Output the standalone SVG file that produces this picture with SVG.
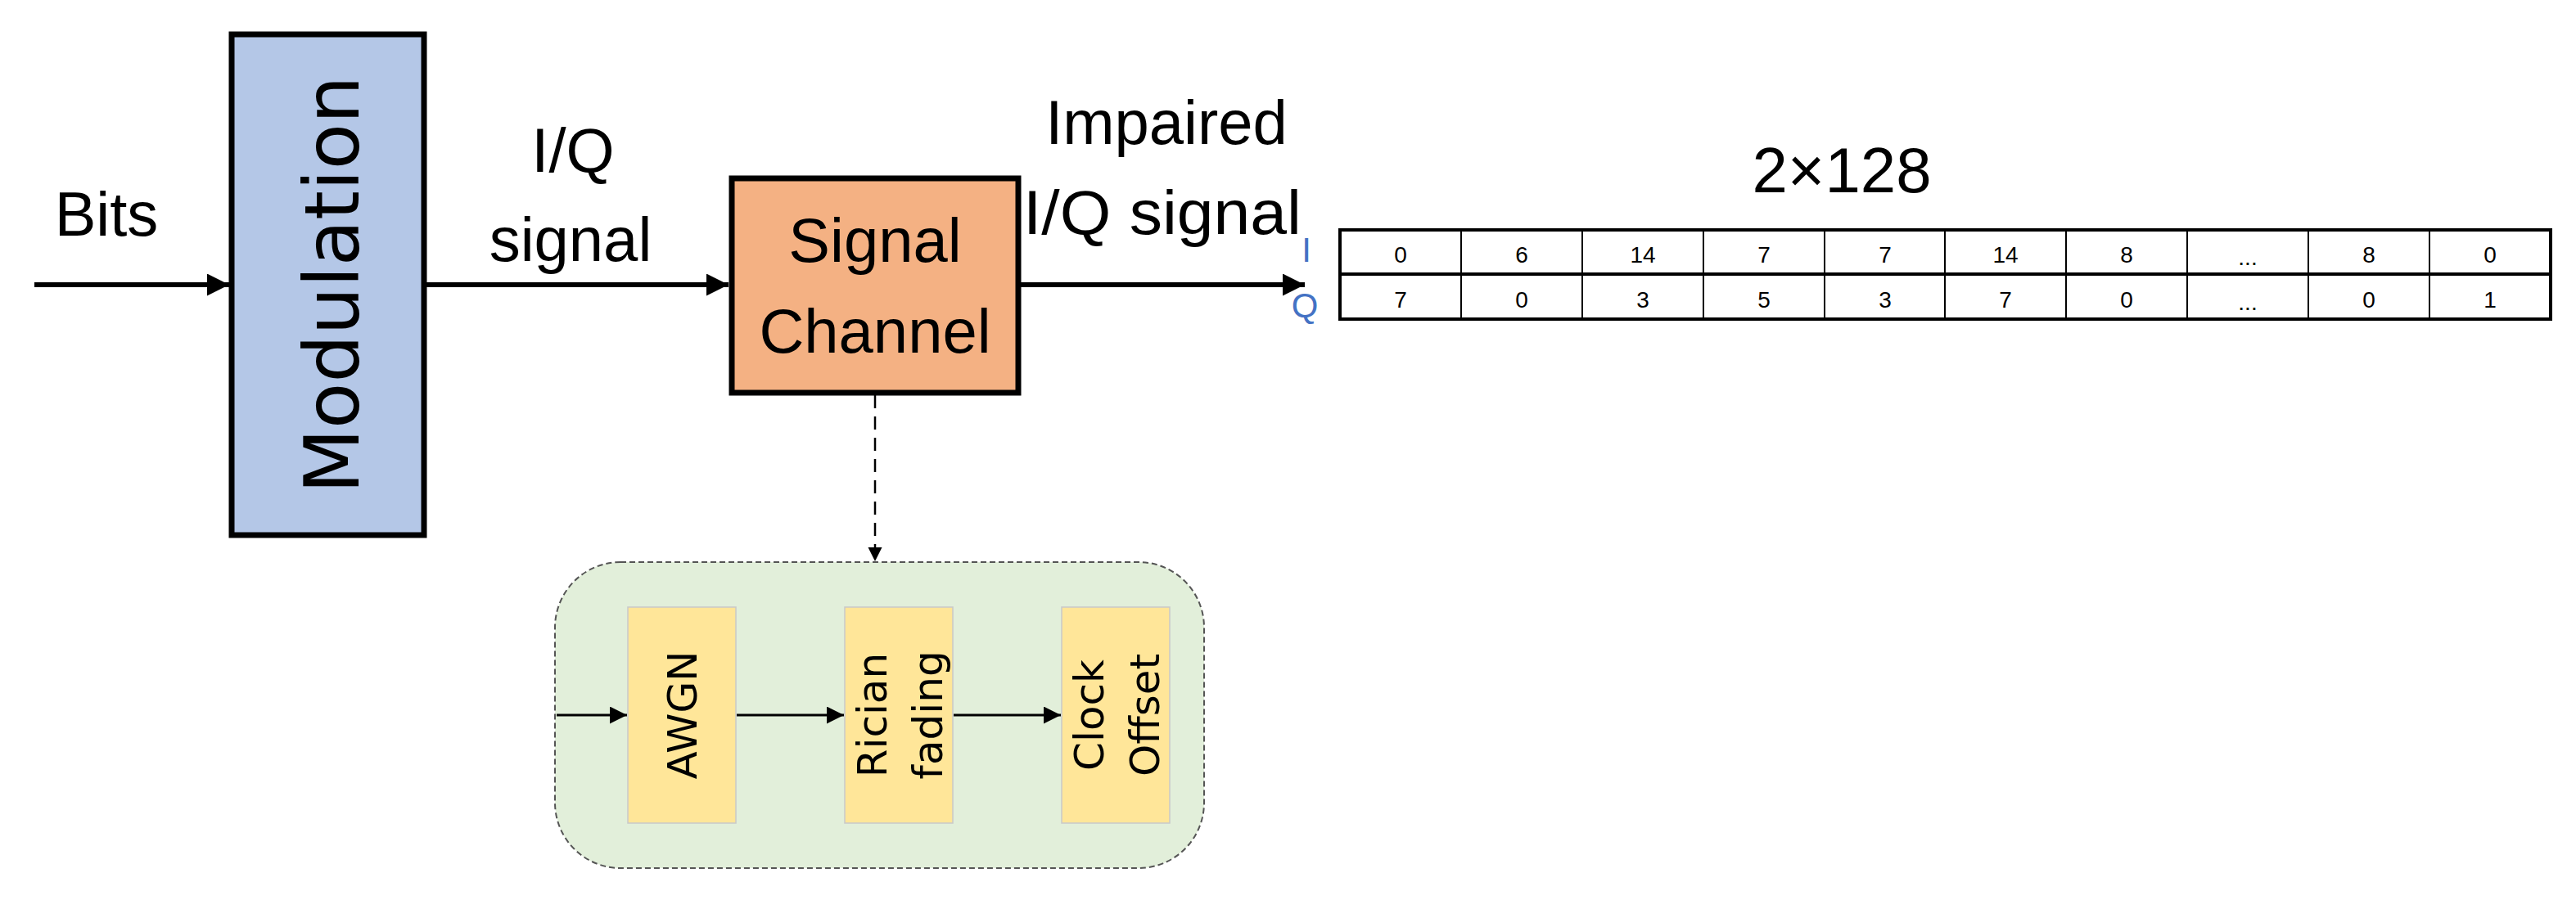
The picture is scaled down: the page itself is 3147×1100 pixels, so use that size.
<svg xmlns="http://www.w3.org/2000/svg" width="3147" height="1100" viewBox="0 0 3147 1100">
<style>
.t{font-family:"Liberation Sans",Arial,sans-serif;fill:#000}
.v{font-family:"DejaVu Sans",sans-serif;fill:#000}
.c{font-family:"Liberation Sans",sans-serif;font-size:28px;text-anchor:middle}
.ln{stroke:#000;stroke-width:6;fill:none}
.sm{stroke:#000;stroke-width:3;fill:none}
</style>
<defs>
<marker id="ah" viewBox="0 0 10 10" refX="10" refY="5" markerWidth="4.5" markerHeight="4.5" orient="auto" markerUnits="strokeWidth"><path d="M0,0L10,5L0,10z" fill="#000"/></marker>
<marker id="as" viewBox="0 0 10 10" refX="10" refY="5" markerWidth="7" markerHeight="7" orient="auto" markerUnits="strokeWidth"><path d="M0,0L10,5L0,10z" fill="#000"/></marker>
</defs>
<rect width="3147" height="1100" fill="#fff"/>
<g id="labels">
<text class="t" x="130" y="288" font-size="76" text-anchor="middle">Bits</text>
<text class="t" x="700" y="210" font-size="76" text-anchor="middle">I/Q</text>
<text class="t" x="697" y="319" font-size="76" text-anchor="middle">signal</text>
<text class="t" x="1425" y="176" font-size="76" text-anchor="middle">Impaired</text>
<text class="t" x="1420" y="286" font-size="76" text-anchor="middle" textLength="340" lengthAdjust="spacingAndGlyphs">I/Q signal</text>
<text class="t" x="2250" y="235" font-size="78" text-anchor="middle">2×128</text>
<text class="t" x="1596" y="320" font-size="42" style="fill:#4472C4" text-anchor="middle">I</text>
<text class="t" x="1594" y="388" font-size="42" style="fill:#4472C4" text-anchor="middle">Q</text>
</g>
<g id="modulation">
<rect x="283" y="42" width="235" height="612" fill="#B4C7E7" stroke="#000" stroke-width="7"/>
<text class="v" transform="translate(438,348) rotate(-90)" font-size="92" text-anchor="middle">Modulation</text>
</g>
<g id="signal-channel">
<rect x="894" y="218" width="350" height="262" fill="#F4B183" stroke="#000" stroke-width="7"/>
<text class="t" x="1069" y="320" font-size="76" text-anchor="middle">Signal</text>
<text class="t" x="1069" y="431" font-size="76" text-anchor="middle">Channel</text>
</g>
<g id="channel-detail">
<rect x="678" y="687" width="793" height="374" rx="80" ry="80" fill="#E2EFDA" stroke="#555" stroke-width="2" stroke-dasharray="7,4"/>
</g>
<g id="awgn">
<rect x="767" y="742" width="132" height="264" fill="#FFE699" stroke="#C9C9C9" stroke-width="1.5"/>
<text class="v" transform="translate(851,874) rotate(-90)" font-size="50" text-anchor="middle">AWGN</text>
</g>
<g id="rician">
<rect x="1032" y="742" width="132" height="264" fill="#FFE699" stroke="#C9C9C9" stroke-width="1.5"/>
<text class="v" transform="translate(1083,874) rotate(-90)" font-size="50" text-anchor="middle">Rician</text>
<text class="v" transform="translate(1151,874) rotate(-90)" font-size="50" text-anchor="middle">fading</text>
</g>
<g id="clock">
<rect x="1297" y="742" width="132" height="264" fill="#FFE699" stroke="#C9C9C9" stroke-width="1.5"/>
<text class="v" transform="translate(1348,874) rotate(-90)" font-size="50" text-anchor="middle">Clock</text>
<text class="v" transform="translate(1416,874) rotate(-90)" font-size="50" text-anchor="middle">Offset</text>
</g>
<g id="table">
<rect x="1637" y="281" width="1479" height="109" fill="#fff" stroke="#000" stroke-width="4"/>
<line x1="1637" y1="335" x2="3116" y2="335" stroke="#000" stroke-width="4"/>
<g stroke="#000" stroke-width="2">
<line x1="1785" y1="281" x2="1785" y2="390"/><line x1="1933" y1="281" x2="1933" y2="390"/><line x1="2081" y1="281" x2="2081" y2="390"/><line x1="2229" y1="281" x2="2229" y2="390"/><line x1="2376" y1="281" x2="2376" y2="390"/><line x1="2524" y1="281" x2="2524" y2="390"/><line x1="2672" y1="281" x2="2672" y2="390"/><line x1="2820" y1="281" x2="2820" y2="390"/><line x1="2968" y1="281" x2="2968" y2="390"/>
</g>
<g class="c">
<text x="1711" y="321">0</text><text x="1859" y="321">6</text><text x="2007" y="321">14</text><text x="2155" y="321">7</text><text x="2303" y="321">7</text><text x="2450" y="321">14</text><text x="2598" y="321">8</text><text x="2746" y="324">...</text><text x="2894" y="321">8</text><text x="3042" y="321">0</text>
<text x="1711" y="376">7</text><text x="1859" y="376">0</text><text x="2007" y="376">3</text><text x="2155" y="376">5</text><text x="2303" y="376">3</text><text x="2450" y="376">7</text><text x="2598" y="376">0</text><text x="2746" y="379">...</text><text x="2894" y="376">0</text><text x="3042" y="376">1</text>
</g>
</g>
<g id="connectors">
<line class="ln" x1="42" y1="348" x2="280" y2="348" marker-end="url(#ah)"/>
<line class="ln" x1="520" y1="348" x2="890" y2="348" marker-end="url(#ah)"/>
<line class="ln" x1="1247" y1="348" x2="1594" y2="348" marker-end="url(#ah)"/>
<line x1="1069" y1="483" x2="1069" y2="686" stroke="#000" stroke-width="2.5" stroke-dasharray="16,10" marker-end="url(#as)"/>
<line class="sm" x1="680" y1="874" x2="766" y2="874" marker-end="url(#as)"/>
<line class="sm" x1="900" y1="874" x2="1031" y2="874" marker-end="url(#as)"/>
<line class="sm" x1="1165" y1="874" x2="1296" y2="874" marker-end="url(#as)"/>
</g>
</svg>
